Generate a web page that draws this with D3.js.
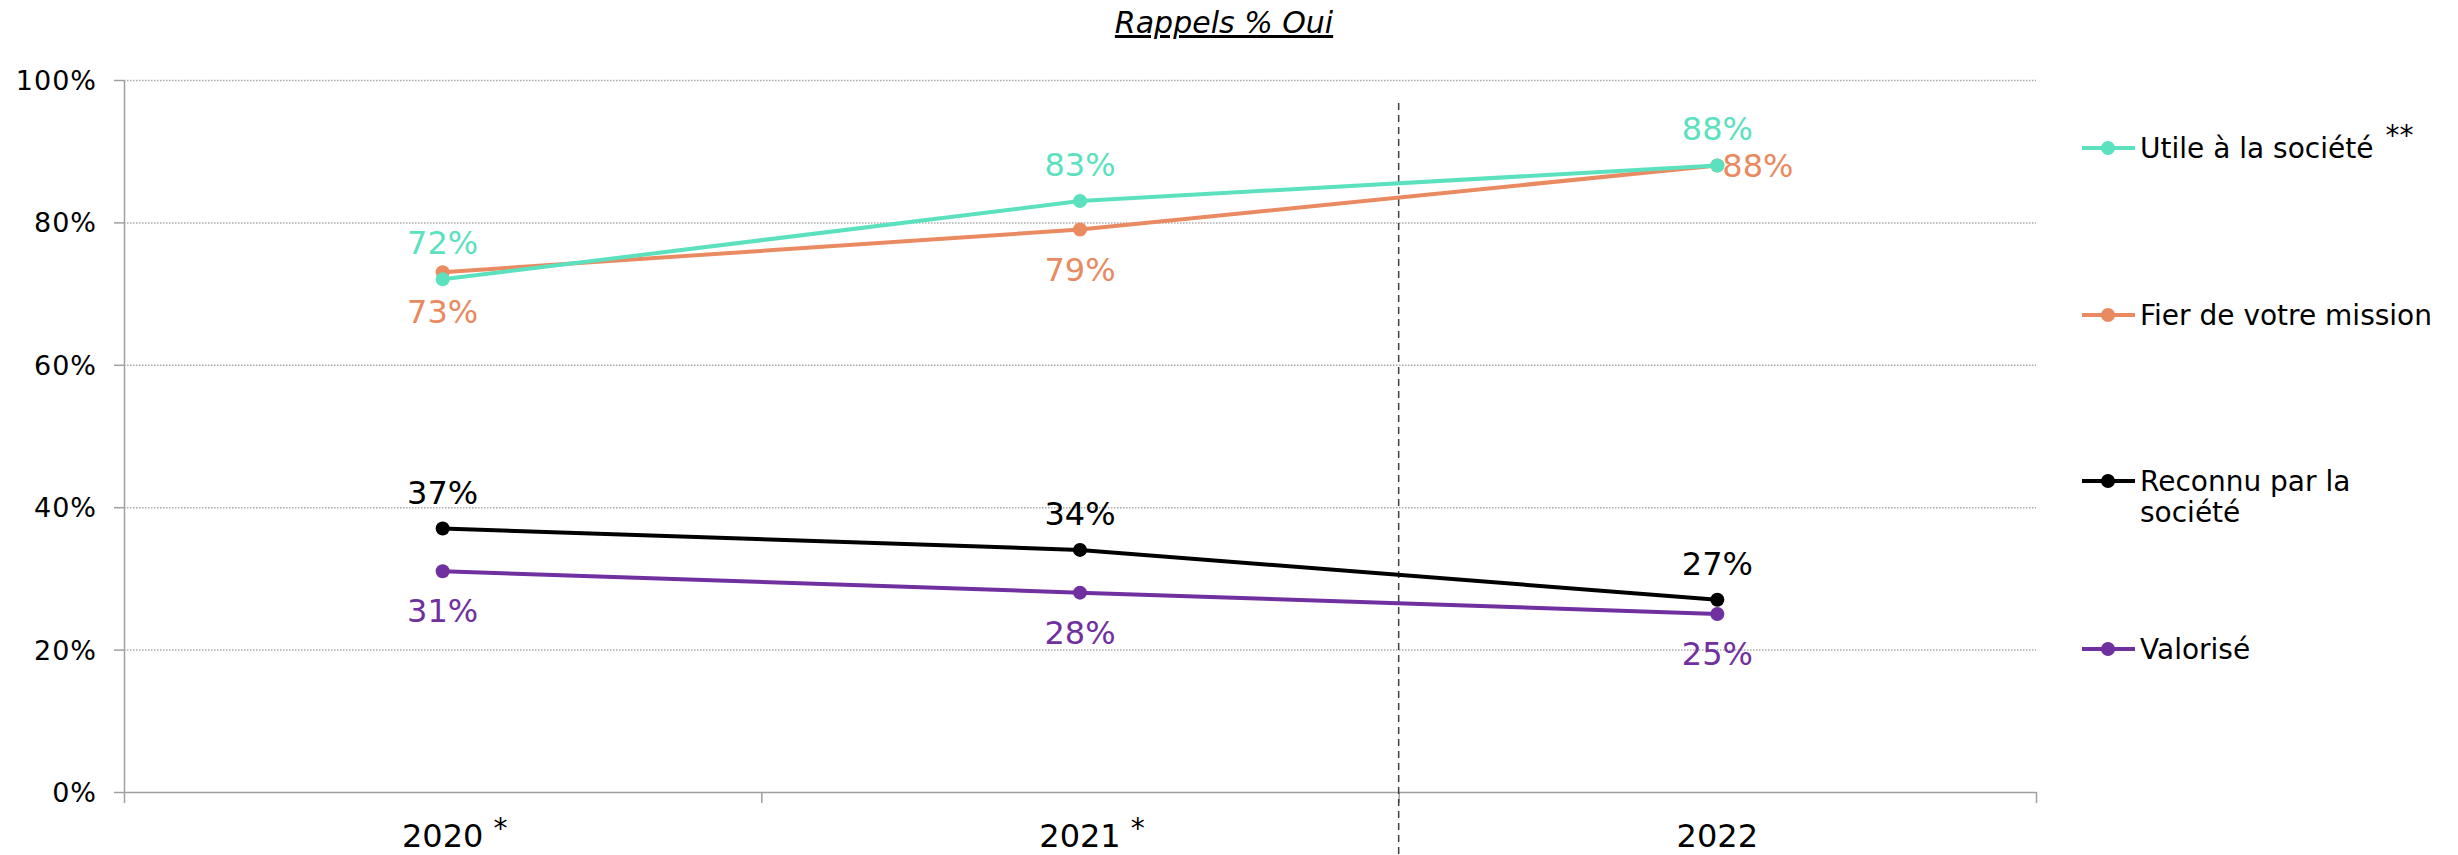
<!DOCTYPE html>
<html>
<head>
<meta charset="utf-8">
<script src="https://cdn.jsdelivr.net/npm/d3@7"></script>
<style>
  body { margin: 0; background: #fff; }
  text { font-family: "DejaVu Sans", Verdana, sans-serif; }
</style>
</head>
<body>
<script>
"use strict";

var years = ["2020", "2021", "2022"];
var yearNotes = ["*", "*", ""];
var seriesNames = ["Utile à la société", "Fier de votre mission", "Reconnu par la société", "Valorisé"];
var seriesNotes = ["**", "", "", ""];
var utile = [72, 83, 88];
var fier = [73, 79, 88];
var reconnu = [37, 34, 27];
var valorise = [31, 28, 25];
var yTicks = [0, 20, 40, 60, 80, 100];
var colors = ["#5ce1bf", "#e98a60", "#000000", "#7030a0"];
var labelPos = [["top", "top", "top"], ["bottom", "bottom", "right"], ["top", "top", "top"], ["bottom", "bottom", "bottom"]];

var width = 2458,
    height = 855;
var plotLeft = 124, plotRight = 2036, plotTop = 80, plotBottom = 792;

var allSeries = [utile, fier, reconnu, valorise];

var svg = d3.select("body").append("svg")
    .attr("width", width)
    .attr("height", height);

var x = d3.scaleBand().domain(years).range([plotLeft, plotRight]);
var xEdge = d3.scaleLinear().domain([0, years.length]).range([plotLeft, plotRight]);
var y = d3.scaleLinear().domain([0, 100]).range([plotBottom, plotTop]);

// title
svg.append("text")
    .attr("x", 1224)
    .attr("y", 33)
    .attr("text-anchor", "middle")
    .style("font-size", "30px")
    .style("font-style", "italic")
    .style("text-decoration", "underline")
    .text("Rappels % Oui");

// grid lines
svg.append("g").selectAll("line")
    .data(yTicks.filter(function(d) { return d > 0; }))
    .enter().append("line")
        .attr("x1", plotLeft)
        .attr("x2", plotRight)
        .attr("y1", function(d) { return y(d) + 0.5; })
        .attr("y2", function(d) { return y(d) + 0.5; })
        .style("stroke", "#a8a8a8")
        .style("stroke-width", 1.5)
        .style("stroke-dasharray", "1.5,1.5");

// y axis
var yAxis = svg.append("g")
    .attr("transform", "translate(" + plotLeft + ",0)")
    .call(d3.axisLeft(y)
        .tickValues(yTicks)
        .tickFormat(function(d) { return d + "%"; })
        .tickSize(10)
        .tickSizeOuter(0)
        .tickPadding(17));
yAxis.selectAll("text")
    .style("font-size", "27px")
    .style("letter-spacing", "1px")
    .style("fill", "#000")
    .attr("dy", "0.35em");
yAxis.selectAll("line, path").style("stroke", "#a0a0a0").style("stroke-width", 1.5);

// x axis (ticks on category edges)
var xAxis = svg.append("g")
    .attr("transform", "translate(0," + plotBottom + ")")
    .call(d3.axisBottom(xEdge)
        .tickValues(d3.range(years.length + 1))
        .tickFormat("")
        .tickSize(11)
        .tickSizeOuter(0));
xAxis.selectAll("line, path").style("stroke", "#a0a0a0").style("stroke-width", 1.5);

// category labels
years.forEach(function(yr, i) {
    var cx = x(yr) + x.bandwidth() / 2;
    var t = svg.append("text")
        .attr("x", cx)
        .attr("y", 847)
        .attr("text-anchor", "middle")
        .style("font-size", "32px")
        .text(yr);
    if (yearNotes[i]) {
        var w = t.node().getComputedTextLength();
        svg.append("text")
            .attr("x", cx + w / 2 + 10)
            .attr("y", 838)
            .style("font-size", "28px")
            .text(yearNotes[i]);
    }
});

// dashed separator between 2021 and 2022
svg.append("line")
    .attr("x1", xEdge(2))
    .attr("x2", xEdge(2))
    .attr("y1", 103)
    .attr("y2", height)
    .style("stroke", "#404040")
    .style("stroke-width", 1.5)
    .style("stroke-dasharray", "7,5");

var line = d3.line()
    .x(function(d, i) { return x(years[i]) + x.bandwidth() / 2; })
    .y(function(d) { return y(d); });

// draw in reverse so the first series sits on top where they meet
allSeries.slice().reverse().forEach(function(values, ri) {
    var s = allSeries.length - 1 - ri;
    var g = svg.append("g");
    g.append("path")
        .datum(values)
        .attr("d", line)
        .style("fill", "none")
        .style("stroke", colors[s])
        .style("stroke-width", 4);
    g.selectAll("circle")
        .data(values)
        .enter().append("circle")
            .attr("cx", function(d, i) { return x(years[i]) + x.bandwidth() / 2; })
            .attr("cy", function(d) { return y(d); })
            .attr("r", 7)
            .style("fill", colors[s]);
});

// data labels
allSeries.forEach(function(values, s) {
    svg.append("g").selectAll("text")
        .data(values)
        .enter().append("text")
            .attr("x", function(d, i) {
                var cx = x(years[i]) + x.bandwidth() / 2;
                return labelPos[s][i] === "right" ? cx + 5 : cx;
            })
            .attr("y", function(d, i) {
                var p = labelPos[s][i];
                if (p === "top") return y(d) - 25;
                if (p === "bottom") return y(d) + 51;
                return y(d) + 12;
            })
            .attr("text-anchor", function(d, i) {
                return labelPos[s][i] === "right" ? "start" : "middle";
            })
            .style("font-size", "32px")
            .style("fill", colors[s])
            .text(function(d) { return d + "%"; });
});

// legend
var legendY = [148, 315, 481, 649];
var legend = svg.append("g");
seriesNames.forEach(function(name, i) {
    var g = legend.append("g").attr("transform", "translate(0," + legendY[i] + ")");
    g.append("line")
        .attr("x1", 2082)
        .attr("x2", 2135)
        .style("stroke", colors[i])
        .style("stroke-width", 4);
    g.append("circle")
        .attr("cx", 2108)
        .attr("r", 7)
        .style("fill", colors[i]);
    var t = g.append("text")
        .attr("x", 2140)
        .attr("y", 10)
        .style("font-size", "28px")
        .style("fill", "#000");
    if (name === "Reconnu par la société") {
        t.append("tspan").attr("x", 2140).text("Reconnu par la");
        t.append("tspan").attr("x", 2140).attr("dy", 31).text("société");
    } else {
        t.append("tspan").text(name);
        if (seriesNotes[i]) {
            t.append("tspan")
                .attr("dx", 12)
                .attr("dy", -13)
                .text(seriesNotes[i]);
        }
    }
});
</script>
</body>
</html>
